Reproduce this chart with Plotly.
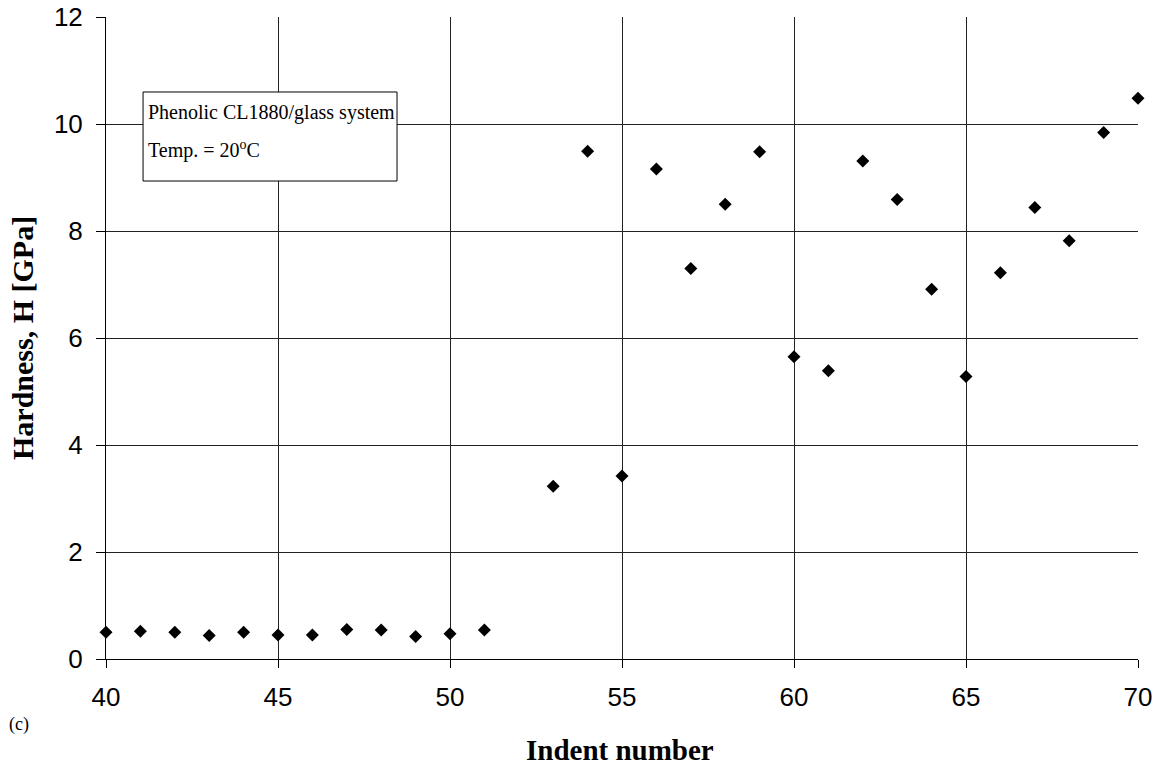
import plotly.graph_objects as go

indent = [40, 41, 42, 43, 44, 45, 46, 47, 48, 49, 50, 51,
          53, 54, 55, 56, 57, 58, 59, 60, 61, 62, 63, 64, 65, 66, 67, 68, 69, 70]
hardness = [0.50, 0.52, 0.50, 0.44, 0.50, 0.45, 0.45, 0.55, 0.54, 0.42, 0.47, 0.54,
            3.23, 9.49, 3.42, 9.16, 7.30, 8.50, 9.48, 5.65, 5.39, 9.31, 8.59, 6.91, 5.28,
            7.22, 8.44, 7.82, 9.84, 10.48]

x_ticks = [40, 45, 50, 55, 60, 65, 70]
y_ticks = [0, 2, 4, 6, 8, 10, 12]

legend_line1 = "Phenolic CL1880/glass system"
legend_line2 = "Temp. = 20<sup>o</sup>C"

fig = go.Figure()
fig.add_trace(go.Scatter(
    x=indent, y=hardness, mode="markers",
    marker=dict(symbol="diamond", size=10, color="black"),
    showlegend=False, cliponaxis=False,
))

tick_font = dict(family="Liberation Sans, Arial, sans-serif", size=26, color="black")
serif = "Liberation Serif, Times New Roman, serif"

fig.update_layout(
    width=1165, height=768,
    margin=dict(l=106, r=27, t=17, b=109),
    paper_bgcolor="white", plot_bgcolor="white",
    xaxis=dict(
        range=[40, 70], tickvals=x_ticks, ticks="outside", ticklen=8, tickcolor="black",
        showgrid=True, gridcolor="#222", gridwidth=1, zeroline=False,
        showline=True, linecolor="black", linewidth=1, automargin=False,
        tickfont=tick_font, ticklabelstandoff=7,
    ),
    yaxis=dict(
        range=[0, 12], tickvals=y_ticks, ticks="outside", ticklen=9, tickcolor="black",
        showgrid=True, gridcolor="#222", gridwidth=1, zeroline=False,
        showline=True, linecolor="black", linewidth=1, automargin=False,
        tickfont=tick_font, ticklabelstandoff=8,
    ),
    shapes=[
        dict(type="rect", xref="paper", yref="paper", x0=0.0359, x1=0.282, y0=0.7445, y1=0.8832,
             line=dict(color="black", width=1), fillcolor="white", layer="above"),
    ],
    annotations=[
        dict(text="<b>Indent number</b>", xref="paper", yref="paper", x=0.498, y=-0.1417,
             xanchor="center", yanchor="middle", showarrow=False,
             font=dict(family=serif, size=29, color="black")),
        dict(text="<b>Hardness, H [GPa]</b>", xref="paper", yref="paper", x=-0.0814, y=0.5,
             xanchor="center", yanchor="middle", showarrow=False, textangle=-90,
             font=dict(family=serif, size=30, color="black")),
        dict(text="(c)", xref="paper", yref="paper", x=-0.0959, y=-0.1028,
             xanchor="left", yanchor="middle", showarrow=False,
             font=dict(family=serif, size=18, color="black")),
        dict(text=legend_line1, xref="paper", yref="paper", x=0.039, y=0.852,
             xanchor="left", yanchor="middle", showarrow=False,
             font=dict(family=serif, size=20, color="black")),
        dict(text=legend_line2, xref="paper", yref="paper", x=0.039, y=0.793,
             xanchor="left", yanchor="middle", showarrow=False,
             font=dict(family=serif, size=20, color="black")),
    ],
)

fig.write_html("out.html", config={"displayModeBar": False},
               post_script="document.body.style.margin='0px';")
